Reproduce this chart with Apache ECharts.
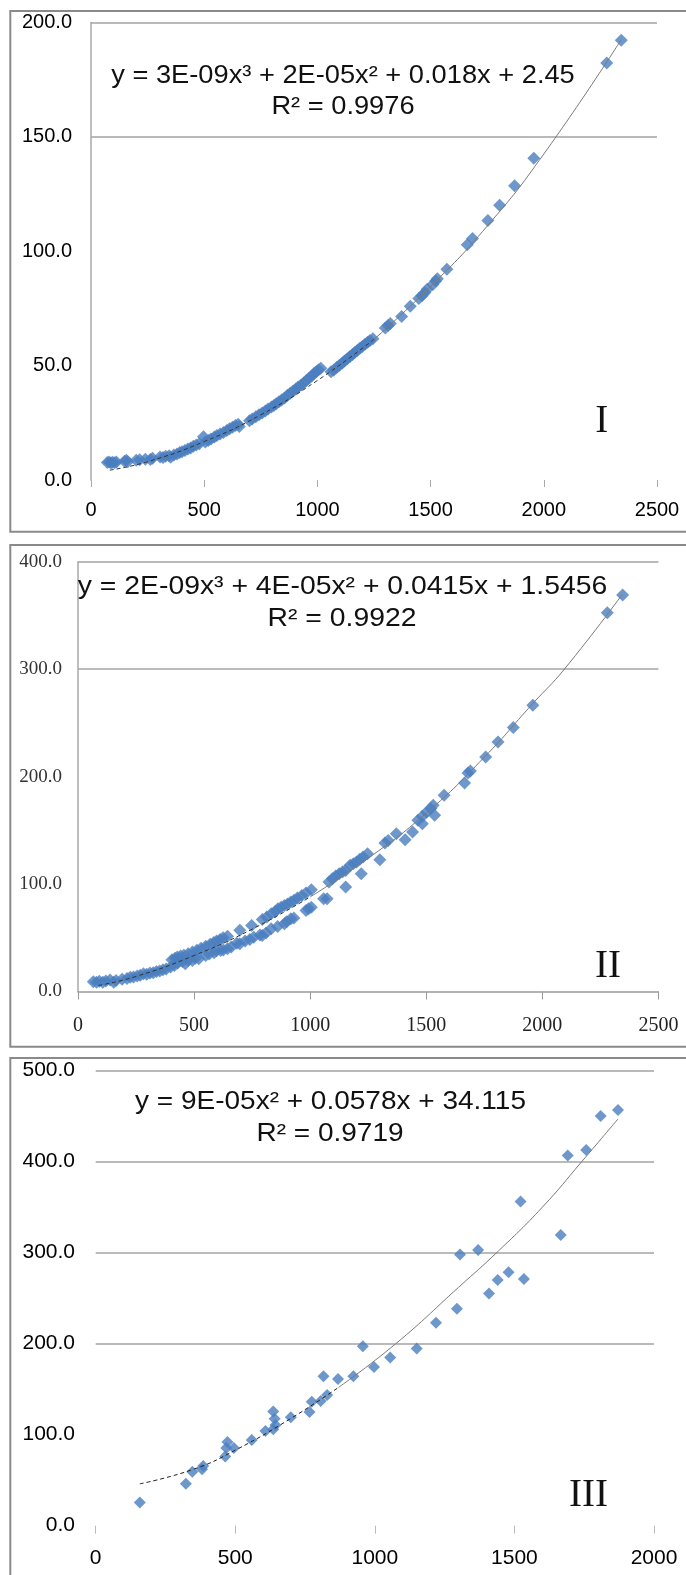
<!DOCTYPE html>
<html>
<head>
<meta charset="utf-8">
<script src="https://cdn.jsdelivr.net/npm/echarts/dist/echarts.min.js"></script>
<style>
  html, body { margin: 0; padding: 0; background: #fff; }
  #graph { width: 686px; height: 1575px; }
</style>
</head>
<body>
<div id="graph"></div>
<script>
// panel I : points
var panel1Points = [
  [72,7.6],[80,7.9],[88,7.4],[95,7.8],[104,7.5],[112,7.9],[148,8.2],[156,8.6],[162,8.0],
  [200,8.6],[215,8.9],[240,9.1],[262,9.0],[272,9.5],[305,10.1],[318,9.8],[330,10.4],
  [345,10.6],[352,10.0],[366,10.9],[380,11.4],[392,12.0],[402,12.4],[415,12.9],[428,13.5],
  [440,14.0],[452,14.7],[465,15.3],[478,15.8],[497,18.9],[505,16.6],[518,17.3],[530,17.9],
  [545,18.8],[556,19.4],[570,20.1],[585,20.8],[600,21.6],[612,22.4],[625,23.1],[638,23.8],
  [650,24.4],[655,23.4],[700,25.9],[712,26.7],[728,27.6],[742,28.5],[756,29.3],[770,30.2],
  [782,31.0],[797,31.9],[808,32.6],[818,33.3],[830,34.2],[842,35.0],[855,35.8],[868,37.0],
  [880,37.9],[893,38.9],[905,39.8],[915,40.7],[928,41.5],[940,42.4],[952,43.6],[963,44.5],
  [975,45.5],[985,46.6],[995,47.3],[1005,48.2],[1015,48.8],[1060,47.3],[1072,48.0],
  [1085,49.2],[1098,50.2],[1110,51.2],[1120,52.0],[1132,53.0],[1143,53.9],[1155,54.9],
  [1165,55.7],[1176,56.6],[1188,57.6],[1198,58.4],[1210,59.3],[1222,60.2],[1232,61.0],
  [1245,61.8],[1300,66.5],[1312,67.5],[1322,68.4],[1372,71.5],[1410,76.0],[1448,79.3],
  [1462,80.6],[1475,82.0],[1485,83.4],[1510,85.5],[1522,87.0],[1530,88.0],[1572,92.1],
  [1662,102.8],[1685,105.6],[1753,113.4],[1805,120.1],[1871,128.6],[1956,140.7],
  [2278,182.3],[2342,192.2]
];
var panel1TrendLow = [[83,4.3],[250,8.0],[500,16.8],[750,28.5],[1000,43.5],[1250,61.5]];
var panel1TrendHigh = [[1250,61.5],[1500,84.6],[1750,111],[2000,142.5],[2342,192.5]];

// panel II
var panel2Points = [
  [66,9.1],[80,8.7],[92,9.5],[107,8.7],[120,9.8],[138,10.7],[154,8.7],[164,10.2],[190,11.5],
  [211,12.0],[225,13.2],[239,13.5],[255,14.5],[268,15.2],[282,16.5],[296,16.0],[310,17.2],
  [324,17.5],[338,18.5],[352,19.0],[366,20.3],[380,21.0],[399,22.7],[405,29.5],[418,31.0],
  [428,32.0],[442,33.0],[456,33.8],[474,35.1],[493,36.8],[512,38.5],[530,40.2],[550,42.0],
  [569,44.0],[585,45.5],[597,47.0],[612,48.3],[625,50.0],[644,51.5],[697,57.0],[748,61.5],
  [794,67.0],[813,69.3],[832,72.4],[850,74.5],[861,77.0],[875,78.5],[889,80.1],[903,81.5],
  [917,83.2],[931,85.0],[945,87.0],[964,89.4],[982,91.6],[1005,94.7],[1081,101.9],
  [1096,105.0],[1110,107.5],[1125,109.6],[1140,111.5],[1153,112.7],[1172,117.4],
  [1186,119.0],[1200,120.5],[1214,123.0],[1228,125.2],[1247,128.3],[1322,138.2],
  [1336,140.5],[1371,146.9],
  [415,24.2],[430,26.5],[450,28.0],[462,25.8],[475,29.0],[493,28.9],[505,31.0],[520,30.5],
  [550,33.5],[565,35.0],[586,36.0],[597,38.0],[615,38.2],[626,38.6],[644,39.8],[660,41.5],
  [684,44.9],[697,44.4],[720,47.0],[740,48.5],[757,50.6],[784,52.6],[794,52.2],[810,54.5],
  [832,58.4],[860,60.5],[889,63.0],[899,65.0],[917,67.7],[930,68.5],[982,75.5],[993,77.0],
  [1005,78.5],[1058,86.3],[1073,86.3],[1153,97.2],[1220,109.6],[1300,122.7],[1409,141.3],
  [1441,148.4],[1483,156.2],[1536,164.0],
  [1464,159.3],[1483,163.0],[1502,167.1],[1520,170.2],[1530,173.3],[1577,182.6],
  [1665,194.1],[1680,203.4],[1690,205.3],[1756,218.3],[1809,232.3],[1875,245.7],
  [1959,266.5],[2280,352.5],[2346,369.0]
];
var panel2TrendLow = [[88,5.6],[250,14],[500,33.5],[750,58],[1000,88]];
var panel2TrendHigh = [[1000,88],[1250,124],[1500,166],[1750,218],[1959,268],[2095,300],[2346,370]];

// panel III
var panel3Points = [
  [158,25.5],[323,46.1],[346,59.2],[381,61.9],[385,65.6],[464,76.1],[468,85.5],[472,91.9],
  [495,85.5],[559,94.1],[608,104.2],[636,106.1],[641,117.4],[636,125.6],[644,110.6],
  [699,119.2],[766,124.9],[774,136.1],[806,136.9],[816,164.2],[829,143.6],[868,161.2],
  [923,164.2],[957,197.2],[997,174.4],[1055,184.9],[1150,194.6],[1219,223.1],[1294,238.5],
  [1305,298.1],[1370,303],[1409,255.3],[1440,270],[1479,278.6],[1522,356.2],[1534,271.1],
  [1666,319.5],[1691,406.8],[1757,412.8],[1809,450.3],[1871,456.7]
];
var panel3TrendLow = [[158,46],[350,62],[500,83],[700,118],[870,152]];
var panel3TrendHigh = [[870,152],[1075,200],[1300,262],[1443,302],[1600,350],[1741,400],[1871,447]];

// gridlines that are still visible in the scan
var panel1Grid = [150, 200];
var panel2Grid = [300, 400];
var panel3Grid = [200, 300, 400, 500];

var equations = [
  'y = 3E-09x³ + 2E-05x² + 0.018x + 2.45',
  'y = 2E-09x³ + 4E-05x² + 0.0415x + 1.5456',
  'y = 9E-05x² + 0.0578x + 34.115'
];
var rSquared = ['R² = 0.9976', 'R² = 0.9922', 'R² = 0.9719'];
var panelNames = ['I', 'II', 'III'];
var xMax = [2500, 2500, 2000];
var yMax = [200, 400, 500];
var yStep = [50, 100, 100];

var dom = document.getElementById('graph');
var chart = echarts.init(dom);

var blue = '#4A7EBF';
var gridColor = '#a3a3a3';
var sans = 'Liberation Sans';
var serif = 'Liberation Serif';

function yFmt(v) { return v.toFixed(1); }
function xFmt(v) { return String(v); }

function scatter(i, data, lines, size) {
    return {
        type: 'scatter', xAxisIndex: i, yAxisIndex: i, data: data,
        symbol: 'diamond', symbolSize: [size, size],
        itemStyle: { color: blue }, z: 2, silent: true,
        markLine: {
            silent: true, symbol: 'none', label: { show: false },
            lineStyle: { color: gridColor, width: 1.5, type: 'solid' },
            z: 1,
            data: lines.map(function (v) { return { yAxis: v }; })
        }
    };
}
function trend(i, data, color, dashed) {
    return {
        type: 'line', xAxisIndex: i, yAxisIndex: i, data: data,
        smooth: true, showSymbol: false, silent: true, z: 3,
        lineStyle: { color: color, width: 1, type: dashed ? [4, 3] : 'solid' }
    };
}
function label(x, y, text, size, family, sx) {
    return {
        type: 'text', x: x, y: y, scaleX: sx || 1, z: 10,
        style: {
            text: text, fontSize: size, fontFamily: family, fill: '#111',
            textAlign: 'center', textVerticalAlign: 'middle'
        }
    };
}

chart.setOption({
    animation: false,
    backgroundColor: '#fff',
    grid: [
        { left: 91, right: 29, top: 22.5, bottom: 1095 },
        { left: 78, right: 27.6, top: 561.7, bottom: 583.5 },
        { left: 95.7, right: 32, top: 1070.7, bottom: 49.3 }
    ],
    xAxis: [
        {
            gridIndex: 0, type: 'value', min: 0, max: xMax[0], interval: 500,
            axisLine: { show: false },
            axisTick: { show: true, length: 7, lineStyle: { color: '#aaa' } },
            splitLine: { show: false },
            axisLabel: { margin: 20, fontSize: 20, fontFamily: sans, color: '#000', formatter: xFmt }
        },
        {
            gridIndex: 1, type: 'value', min: 0, max: xMax[1], interval: 500,
            axisLine: { show: true, lineStyle: { color: '#9a9a9a', width: 1.5 } },
            axisTick: { show: true, length: 8, lineStyle: { color: '#9a9a9a' } },
            splitLine: { show: false },
            axisLabel: { margin: 24, fontSize: 20, fontFamily: serif, color: '#222', formatter: xFmt }
        },
        {
            gridIndex: 2, type: 'value', min: 0, max: xMax[2], interval: 500,
            axisLine: { show: false },
            axisTick: { show: true, length: 8, lineStyle: { color: '#bbb' } },
            splitLine: { show: false },
            axisLabel: { margin: 22, fontSize: 21, fontFamily: sans, color: '#000', formatter: xFmt }
        }
    ],
    yAxis: [
        {
            gridIndex: 0, type: 'value', min: 0, max: yMax[0], interval: yStep[0],
            axisLine: { show: true, lineStyle: { color: '#a8a8a8', width: 1.5 } },
            axisTick: { show: false },
            splitLine: { show: false },
            axisLabel: { margin: 19, fontSize: 20, fontFamily: sans, color: '#000', formatter: yFmt }
        },
        {
            gridIndex: 1, type: 'value', min: 0, max: yMax[1], interval: yStep[1],
            axisLine: { show: true, lineStyle: { color: '#a8a8a8', width: 1.5 } },
            axisTick: { show: false },
            splitLine: { show: false },
            axisLabel: { margin: 16, fontSize: 19, fontFamily: serif, color: '#333', formatter: yFmt }
        },
        {
            gridIndex: 2, type: 'value', min: 0, max: yMax[2], interval: yStep[2],
            axisLine: { show: false },
            axisTick: { show: false },
            splitLine: { show: false },
            axisLabel: { margin: 20.7, fontSize: 21, fontFamily: sans, color: '#000', formatter: yFmt }
        }
    ],
    series: [
        scatter(0, panel1Points, panel1Grid, 13),
        trend(0, panel1TrendLow, '#333', true),
        trend(0, panel1TrendHigh, '#7a7a7a', false),
        scatter(1, panel2Points, panel2Grid, 13),
        trend(1, panel2TrendLow, '#333', true),
        trend(1, panel2TrendHigh, '#7a7a7a', false),
        scatter(2, panel3Points, panel3Grid, 12),
        trend(2, panel3TrendLow, '#222', true),
        trend(2, panel3TrendHigh, '#7a7a7a', false)
    ],
    graphic: [
        { type: 'rect', shape: { x: 10.3, y: 11, width: 700, height: 520.7 }, style: { fill: 'none', stroke: '#8a8a8a', lineWidth: 2 } },
        { type: 'rect', shape: { x: 10.3, y: 545, width: 700, height: 501.7 }, style: { fill: 'none', stroke: '#8a8a8a', lineWidth: 2 } },
        { type: 'rect', shape: { x: 10.3, y: 1058, width: 700, height: 560 }, style: { fill: 'none', stroke: '#8a8a8a', lineWidth: 2 } },
        label(343, 76, equations[0], 25, sans, 1.09),
        label(343, 107, rSquared[0], 25, sans, 1.09),
        label(342.5, 586.7, equations[1], 26, sans, 1.09),
        label(342, 619.3, rSquared[1], 26, sans, 1.09),
        label(330.5, 1102.5, equations[2], 25, sans, 1.12),
        label(330, 1134, rSquared[2], 25, sans, 1.12),
        label(601.7, 421.7, panelNames[0], 39, serif),
        label(608, 967, panelNames[1], 39, serif),
        label(588.4, 1495.6, panelNames[2], 39, serif)
    ]
});
</script>
</body>
</html>
